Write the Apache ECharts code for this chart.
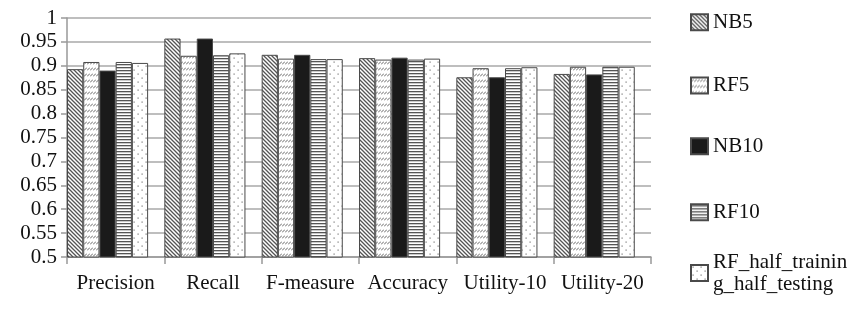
<!DOCTYPE html>
<html>
<head>
<meta charset="utf-8">
<script src="https://cdn.jsdelivr.net/npm/echarts@6/dist/echarts.min.js"></script>
<style>
  html, body { margin: 0; padding: 0; background: #fff; }
  #chart { width: 849px; height: 313px; }
</style>
</head>
<body>
<div id="chart"></div>
<script>
const categories = ["Precision", "Recall", "F-measure", "Accuracy", "Utility-10", "Utility-20"];
const seriesNames = ["NB5", "RF5", "NB10", "RF10", "RF_half_training_half_testing"];

const nb5 = [0.893, 0.957, 0.923, 0.916, 0.876, 0.883];
const rf5 = [0.908, 0.921, 0.915, 0.913, 0.895, 0.898];
const nb10 = [0.890, 0.957, 0.923, 0.917, 0.876, 0.882];
const rf10 = [0.908, 0.922, 0.914, 0.913, 0.895, 0.898];
const rfHalf = [0.906, 0.926, 0.914, 0.915, 0.897, 0.898];

const FONT = "'Liberation Serif', 'Times New Roman', serif";

// small canvas tiles used as bar fills
function tile(w, h, draw) {
    const c = document.createElement("canvas");
    c.width = w;
    c.height = h;
    const ctx = c.getContext("2d");
    ctx.fillStyle = "#fff";
    ctx.fillRect(0, 0, w, h);
    draw(ctx);
    return { image: c, repeat: "repeat" };
}

const patterns = [
    // NB5: dense back-diagonal hatch
    tile(4, 4, ctx => {
        ctx.strokeStyle = "#555";
        ctx.lineWidth = 1.3;
        ctx.beginPath();
        ctx.moveTo(-1, -1); ctx.lineTo(5, 5);
        ctx.moveTo(-1, 3); ctx.lineTo(1, 5);
        ctx.moveTo(3, -1); ctx.lineTo(5, 1);
        ctx.stroke();
    }),
    // RF5: rows of short forward slashes
    tile(3, 6, ctx => {
        ctx.strokeStyle = "#666";
        ctx.lineWidth = 1;
        ctx.beginPath();
        ctx.moveTo(0, 4.5); ctx.lineTo(3, 1.5);
        ctx.stroke();
    }),
    // NB10: solid black
    "#1a1a1a",
    // RF10: horizontal lines
    tile(4, 3, ctx => {
        ctx.fillStyle = "#555";
        ctx.fillRect(0, 1, 4, 1.3);
    }),
    // RF_half: sparse dots
    tile(8, 8, ctx => {
        ctx.fillStyle = "#777";
        ctx.fillRect(1.5, 1.5, 1.2, 1.2);
        ctx.fillRect(5.5, 5.5, 1.2, 1.2);
    })
];

const values = [nb5, rf5, nb10, rf10, rfHalf];

const series = seriesNames.map((name, i) => ({
    name: name,
    type: "bar",
    data: values[i],
    barGap: "0%",
    barCategoryGap: "0%",
    itemStyle: {
        color: patterns[i],
        borderColor: "#4a4a4a",
        borderWidth: 1,
        borderRadius: 0
    }
}));
// empty spacer series leaves the gap on the right of each group
series.push({
    name: "spacer",
    type: "bar",
    data: [],
    barGap: "0%",
    barCategoryGap: "0%"
});

const legendCenters = [22.7, 86, 146.7, 212.7, 274];
const legends = seriesNames.map((name, i) => {
    const last = i === seriesNames.length - 1;
    return {
        data: [{ name: name, icon: "rect" }],
        orient: "vertical",
        left: 690,
        top: last ? legendCenters[i] - 34 : legendCenters[i] - 11.5,
        padding: 0,
        itemWidth: 17,
        itemHeight: 16,
        selectedMode: false,
        formatter: n => last ? "RF_half_trainin\ng_half_testing" : n,
        textStyle: {
            fontFamily: FONT,
            fontSize: 21,
            lineHeight: 22,
            color: "#111",
            padding: last ? [22, 0, 0, 0] : 0
        }
    };
});

const chart = echarts.init(document.getElementById("chart"), null, { renderer: "canvas" });

const option = {
    animation: false,
    backgroundColor: "#fff",
    grid: {
        left: 67,
        right: 198,
        top: 18,
        bottom: 56
    },
    legend: legends,
    xAxis: {
        type: "category",
        data: categories,
        axisLine: { show: true, lineStyle: { color: "#999", width: 1.5 } },
        axisTick: { show: true, length: 7, lineStyle: { color: "#999", width: 1.5 } },
        axisLabel: {
            interval: 0,
            fontFamily: FONT,
            fontSize: 21,
            color: "#111",
            margin: 16
        }
    },
    yAxis: {
        type: "value",
        min: 0.5,
        max: 1,
        interval: 0.05,
        axisLine: { show: true, lineStyle: { color: "#999", width: 1.5 } },
        axisTick: { show: true, length: 6, lineStyle: { color: "#999", width: 1.5 } },
        splitLine: { show: true, lineStyle: { color: "#a8a8a8", width: 1.5 } },
        axisLabel: {
            fontFamily: FONT,
            fontSize: 21,
            color: "#111",
            margin: 10
        }
    },
    series: series
};

chart.setOption(option);
</script>
</body>
</html>
